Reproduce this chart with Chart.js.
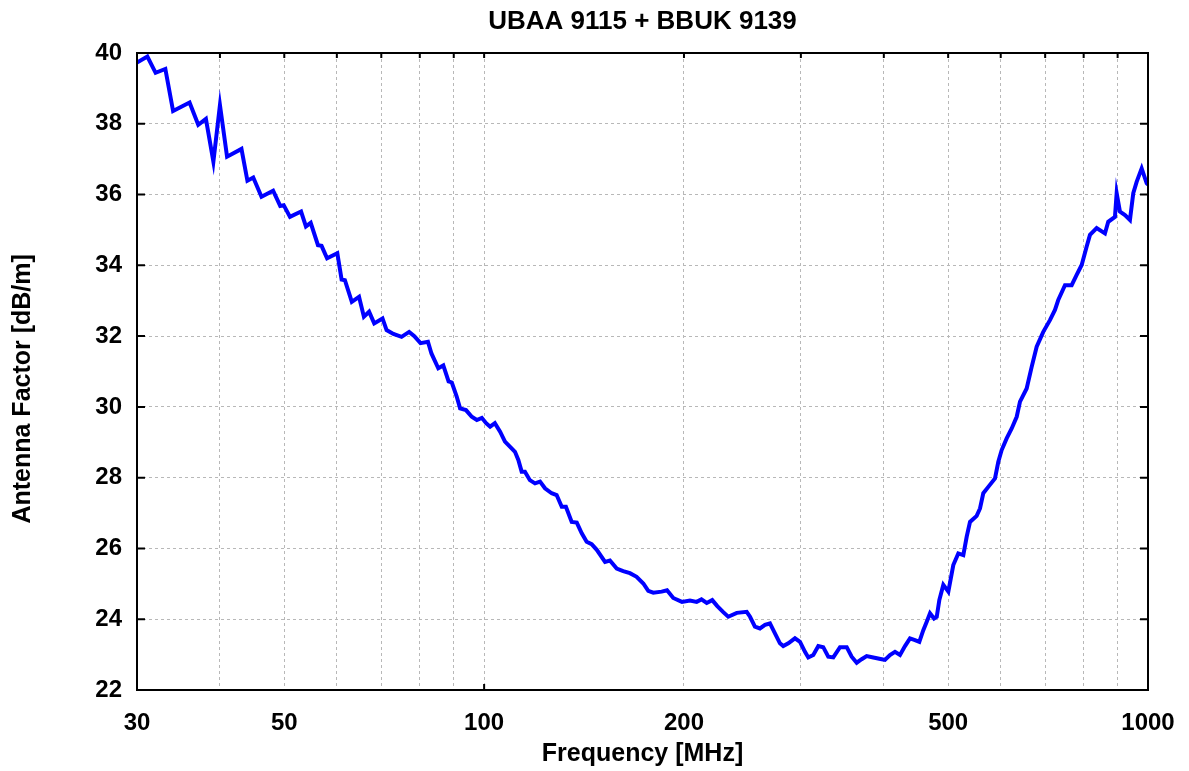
<!DOCTYPE html>
<html>
<head>
<meta charset="utf-8">
<script src="https://cdn.jsdelivr.net/npm/chart.js@4.4.1/dist/chart.umd.min.js"></script>
<style>
  html, body { margin: 0; padding: 0; background: #fff; }
  canvas { display: block; }
</style>
</head>
<body>
<canvas id="afChart" width="1189" height="771"></canvas>
<script>
// frequency in MHz, antenna factor in dB/m
const freqMHz = [
  30.0, 31.1, 32.0, 33.1, 34.0, 36.0, 37.1, 38.1, 39.1, 40.0,
  41.0, 43.1, 44.0, 44.9, 46.2, 48.1, 49.3, 49.9, 51.0, 53.0,
  53.9, 54.8, 56.2, 56.9, 58.0, 60.1, 61.0, 61.7, 63.2, 64.8,
  65.9, 67.1, 68.3, 70.3, 71.3, 73.0, 75.1, 77.1, 78.5, 80.2,
  82.3, 83.3, 85.3, 86.8, 88.4, 89.4, 90.9, 92.0, 93.9, 95.8,
  97.5, 99.2, 100.7, 102.1, 103.8, 105.7, 107.5, 110.0, 111.3, 112.6,
  113.9, 115.2, 117.2, 119.3, 121.4, 123.5, 126.4, 128.6, 130.9, 132.8,
  135.5, 137.9, 140.3, 142.7, 145.2, 147.8, 152.1, 154.7, 158.4, 162.0,
  165.8, 169.7, 173.7, 176.7, 179.8, 185.1, 188.6, 192.7, 198.6, 204.2,
  209.0, 212.5, 216.4, 220.6, 224.5, 229.2, 233.2, 240.2, 248.6, 251.5,
  255.8, 260.3, 264.9, 269.5, 274.2, 279.0, 282.2, 287.2, 293.9, 299.1,
  304.3, 307.8, 313.2, 318.7, 324.2, 329.9, 335.7, 343.6, 351.7, 357.8,
  364.1, 370.4, 376.9, 385.7, 397.1, 401.6, 408.6, 415.8, 423.1, 430.5,
  438.0, 445.7, 452.4, 458.7, 464.2, 469.5, 476.1, 480.6, 484.9, 491.7,
  500.3, 509.0, 517.9, 527.0, 533.2, 539.4, 552.0, 558.4, 564.8, 574.7,
  588.2, 595.0, 602.0, 612.5, 623.3, 634.2, 641.5, 656.5, 668.0, 679.7,
  695.4, 711.7, 724.2, 732.5, 749.8, 767.4, 780.8, 794.5, 808.4, 817.7,
  836.9, 861.3, 871.2, 891.7, 897.0, 907.3, 923.2, 939.3, 950.2, 961.4,
  978.3, 995.4, 1000.0
];
const antennaFactor = [
  39.73, 39.90, 39.44, 39.55, 38.36, 38.60, 37.97, 38.14, 36.93, 38.53,
  37.07, 37.29, 36.39, 36.48, 35.94, 36.11, 35.68, 35.70, 35.37, 35.52,
  35.10, 35.20, 34.57, 34.55, 34.20, 34.34, 33.60, 33.58, 32.97, 33.11,
  32.55, 32.69, 32.36, 32.50, 32.17, 32.06, 31.98, 32.12, 32.00, 31.80,
  31.84, 31.51, 31.09, 31.17, 30.72, 30.69, 30.30, 29.96, 29.91, 29.72,
  29.63, 29.69, 29.54, 29.44, 29.54, 29.30, 29.02, 28.83, 28.73, 28.50,
  28.17, 28.17, 27.93, 27.84, 27.89, 27.70, 27.56, 27.51, 27.18, 27.18,
  26.75, 26.73, 26.43, 26.19, 26.12, 25.96, 25.62, 25.66, 25.43, 25.36,
  25.30, 25.20, 25.01, 24.80, 24.75, 24.78, 24.82, 24.60, 24.49, 24.53,
  24.49, 24.56, 24.46, 24.54, 24.37, 24.20, 24.07, 24.18, 24.21, 24.07,
  23.79, 23.74, 23.84, 23.88, 23.60, 23.32, 23.24, 23.32, 23.46, 23.36,
  23.08, 22.92, 22.99, 23.24, 23.21, 22.94, 22.92, 23.21, 23.21, 22.94,
  22.77, 22.87, 22.96, 22.92, 22.87, 22.85, 22.99, 23.08, 22.99, 23.24,
  23.46, 23.41, 23.36, 23.69, 23.93, 24.17, 24.02, 24.07, 24.54, 24.97,
  24.78, 25.53, 25.86, 25.81, 26.33, 26.75, 26.92, 27.13, 27.56, 27.74,
  27.98, 28.45, 28.78, 29.11, 29.39, 29.72, 30.15, 30.52, 31.13, 31.70,
  32.12, 32.45, 32.74, 33.02, 33.44, 33.44, 33.73, 34.01, 34.53, 34.86,
  35.05, 34.90, 35.23, 35.37, 36.04, 35.52, 35.42, 35.28, 36.04, 36.36,
  36.74, 36.32, 36.28
];
const xGridValues = [30, 40, 50, 60, 70, 80, 90, 100, 200, 300, 400, 500, 600, 700, 800, 900, 1000];
const xTickLabels = [30, 50, 100, 200, 500, 1000];
const xDecades = [100, 1000];

Chart.defaults.font.family = '"Liberation Sans", Arial, sans-serif';
Chart.defaults.color = '#000';

// box around the plot plus the short inward tick marks
const plotFrame = {
  id: 'plotFrame',
  afterDatasetsDraw(chart) {
    const { ctx, chartArea: a, scales } = chart;
    ctx.save();
    ctx.strokeStyle = '#000';
    ctx.lineWidth = 2;
    ctx.beginPath();
    scales.y.ticks.forEach(t => {
      const py = scales.y.getPixelForValue(t.value);
      ctx.moveTo(a.left, py); ctx.lineTo(a.left + 8, py);
      ctx.moveTo(a.right, py); ctx.lineTo(a.right - 8, py);
    });
    xGridValues.forEach(v => {
      const px = scales.x.getPixelForValue(v);
      ctx.moveTo(px, a.top); ctx.lineTo(px, a.top + 5);
      if (xDecades.includes(v)) { ctx.moveTo(px, a.bottom); ctx.lineTo(px, a.bottom - 6); }
    });
    ctx.stroke();
    ctx.strokeRect(a.left, a.top, a.right - a.left, a.bottom - a.top);
    ctx.restore();
  }
};

const gridStyle = { color: '#b8b8b8', lineWidth: 1, drawTicks: false, borderDash: [3, 3] };

new Chart(document.getElementById('afChart'), {
  type: 'line',
  data: {
    datasets: [{
      data: freqMHz.map((f, i) => ({ x: f, y: antennaFactor[i] })),
      borderColor: '#0000ff',
      borderWidth: 4,
      pointRadius: 0,
      tension: 0,
      fill: false
    }]
  },
  options: {
    responsive: false,
    animation: false,
    layout: { padding: { left: 0, right: 41, top: 0, bottom: 0 } },
    plugins: {
      legend: { display: false },
      tooltip: { enabled: false },
      title: {
        display: true,
        text: 'UBAA 9115 + BBUK 9139',
        fullSize: false,
        color: '#000',
        font: { size: 26, weight: 'bold' },
        padding: { top: 5.9, bottom: 15.9 }
      }
    },
    scales: {
      x: {
        type: 'logarithmic',
        min: 30,
        max: 1000,
        afterBuildTicks: s => { s.ticks = xGridValues.map(v => ({ value: v })); },
        afterFit: s => { s.height = 81; },
        ticks: {
          autoSkip: false,
          maxRotation: 0,
          minRotation: 0,
          padding: 14,
          font: { size: 24, weight: 'bold', lineHeight: 1.65 },
          callback: v => (xTickLabels.includes(v) ? String(v) : '')
        },
        grid: gridStyle,
        border: { display: false, dash: [3, 3] },
        title: {
          display: true,
          text: 'Frequency [MHz]',
          font: { size: 25, weight: 'bold' },
          padding: { top: 0, bottom: 2 }
        }
      },
      y: {
        type: 'linear',
        min: 22,
        max: 40,
        afterFit: s => { s.width = 137; },
        ticks: {
          stepSize: 2,
          padding: 15,
          font: { size: 24, weight: 'bold' }
        },
        grid: gridStyle,
        border: { display: false, dash: [3, 3] },
        title: {
          display: true,
          text: 'Antenna Factor [dB/m]\u00a0\u00a0\u00a0\u00a0\u00a0',
          font: { size: 25, weight: 'bold' },
          padding: { top: 8, bottom: 0 }
        }
      }
    }
  },
  plugins: [plotFrame]
});
</script>
</body>
</html>
